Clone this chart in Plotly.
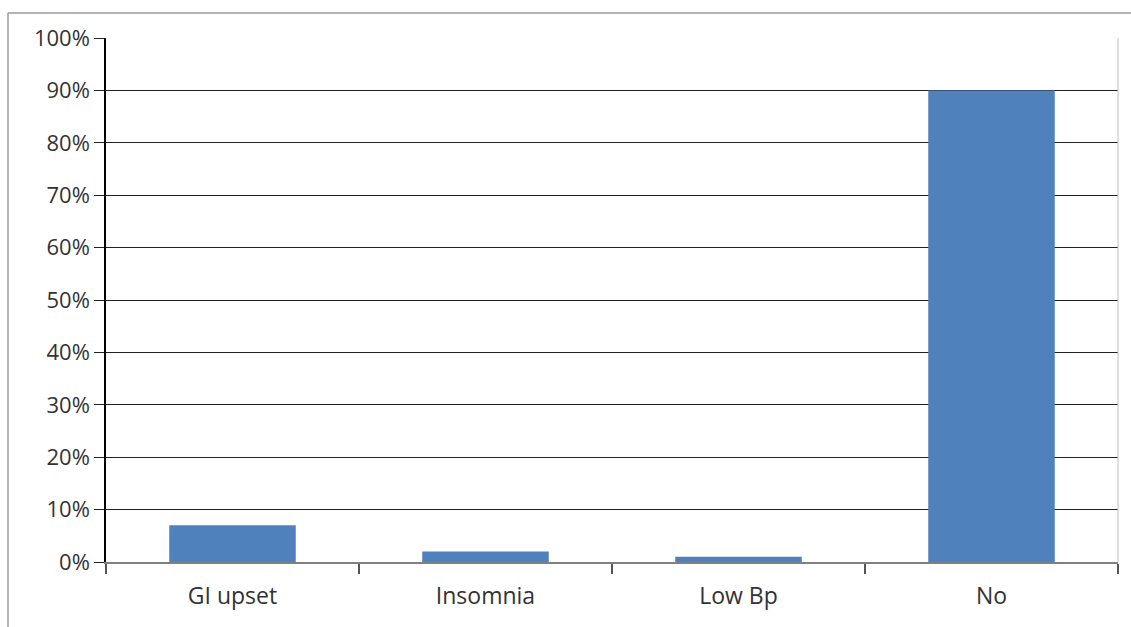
import plotly.graph_objects as go

categories = ["GI upset", "Insomnia", "Low Bp", "No"]
values = [0.07, 0.02, 0.01, 0.90]

W, H = 1131, 627
ml, mr, mt, mb = 106, 13, 38, 65
pw, ph = W - ml - mr, H - mt - mb

def px_x(x):
    return (x - ml) / pw

def px_y(y):
    return (H - mb - y) / ph

fig = go.Figure(go.Bar(x=categories, y=values, marker=dict(color="#4F81BD", line=dict(width=0)),
                       hoverinfo="skip"))

yfont = dict(family="Open Sans", size=22, color="#333333")
xfont = dict(family="Open Sans", size=23, color="#333333")

fig.update_layout(
    width=W, height=H,
    margin=dict(l=ml, r=mr, t=mt, b=mb),
    paper_bgcolor="white", plot_bgcolor="white",
    bargap=0.5,
    showlegend=False,
    font=yfont,
    xaxis=dict(
        type="category", showgrid=False, showline=True, linecolor="#808080", linewidth=2,
        ticks="outside", tickson="boundaries", ticklen=10, tickcolor="#555555", tickwidth=2,
        tickfont=xfont, ticklabelstandoff=12, fixedrange=True,
    ),
    yaxis=dict(
        range=[0, 1], dtick=0.1, tickformat=".0%", showgrid=True, gridcolor="#222222", gridwidth=1,
        zeroline=False, showline=True, linecolor="#000000", linewidth=1.5,
        ticks="outside", ticklen=10, tickcolor="#222222", tickwidth=1,
        tickfont=yfont, fixedrange=True,
    ),
    shapes=[
        # outer chart border (top and left)
        dict(type="line", xref="paper", yref="paper", x0=px_x(8), x1=px_x(W + 5), y0=px_y(13), y1=px_y(13),
             line=dict(color="#9a9a9a", width=1.5)),
        dict(type="line", xref="paper", yref="paper", x0=px_x(8), x1=px_x(8), y0=px_y(13), y1=px_y(H + 5),
             line=dict(color="#9a9a9a", width=1.5)),
        # right plot-area edge
        dict(type="line", xref="paper", yref="paper", x0=1, x1=1, y0=0, y1=1,
             line=dict(color="#c0c0c0", width=1)),
    ],
)

fig.write_html("out.html", config={"displayModeBar": False})
